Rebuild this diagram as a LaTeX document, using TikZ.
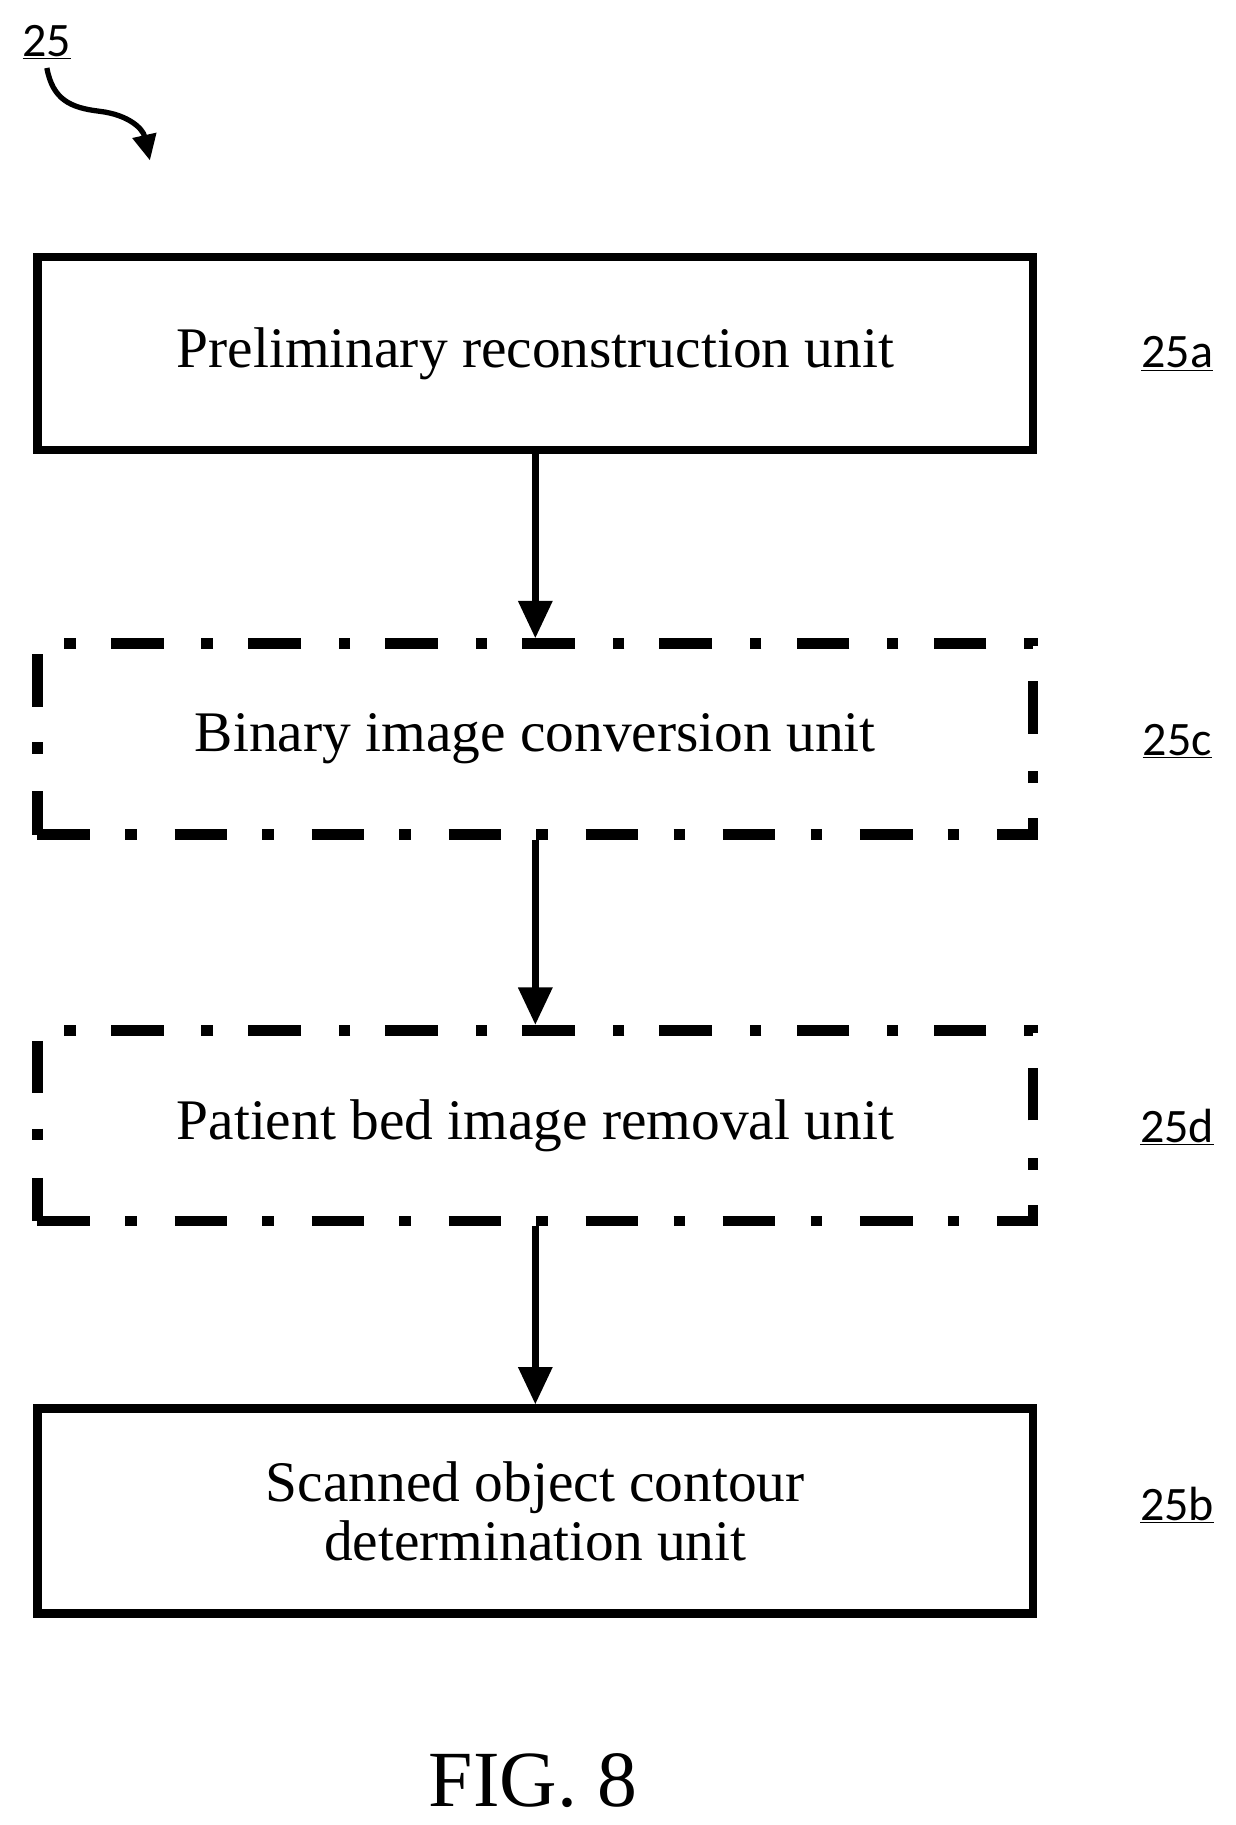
\documentclass[tikz,border=0pt]{standalone}
\usepackage{fontspec}
\setmainfont{Liberation Serif}
\newfontfamily\lab{Carlito}
\usetikzlibrary{arrows.meta}
\begin{document}
\begin{tikzpicture}[x=1pt,y=-1pt,
  solidbox/.style={draw,line width=7pt,minimum width=850pt,minimum height=165pt,font=\fontsize{49}{54}\selectfont,align=center,inner sep=0pt},
  dashbox/.style={draw,line width=9pt,dash pattern=on 45pt off 30pt on 10pt off 32pt,minimum width=850pt,minimum height=163pt,font=\fontsize{49}{54}\selectfont,inner sep=0pt},
  ref/.style={font=\lab\fontsize{41}{43}\selectfont,inner sep=1pt},
  arr/.style={line width=6pt,-{Triangle[length=32pt,width=28pt]}}]
\useasboundingbox (0,0) rectangle (1055,1558);
\node[solidbox] (a) at (457,302) {Preliminary reconstruction unit};
\node[dashbox] (c) at (457,631) {Binary image conversion unit};
\node[dashbox] (d) at (457,961) {Patient bed image removal unit};
\node[solidbox,minimum height=175pt] (b) at (457,1290) {Scanned object contour\\[-4pt]determination unit};
\draw[arr] (a.south) -- (c.north);
\draw[arr] (c.south) -- (d.north);
\draw[arr] (d.south) -- (b.north);
\node[ref] (la) at (1005,302) {\underline{25a}};
\node[ref] (lc) at (1005,633) {\underline{25c}};
\node[ref] (ld) at (1005,962) {\underline{25d}};
\node[ref] (lb) at (1005,1285) {\underline{25b}};
\node[ref] (l25) at (40,36) {\underline{25}};
\coordinate (tip) at (128,137);
\draw[line width=4.5pt,-{Triangle[length=22pt,width=20pt]}] (40,58) .. controls (45,85) and (60,92) .. (85,95) .. controls (110,98) and (122,110) .. (tip);
\node[font=\fontsize{68}{72}\selectfont] (fig) at (455,1520) {FIG. 8};
\end{tikzpicture}
\end{document}
